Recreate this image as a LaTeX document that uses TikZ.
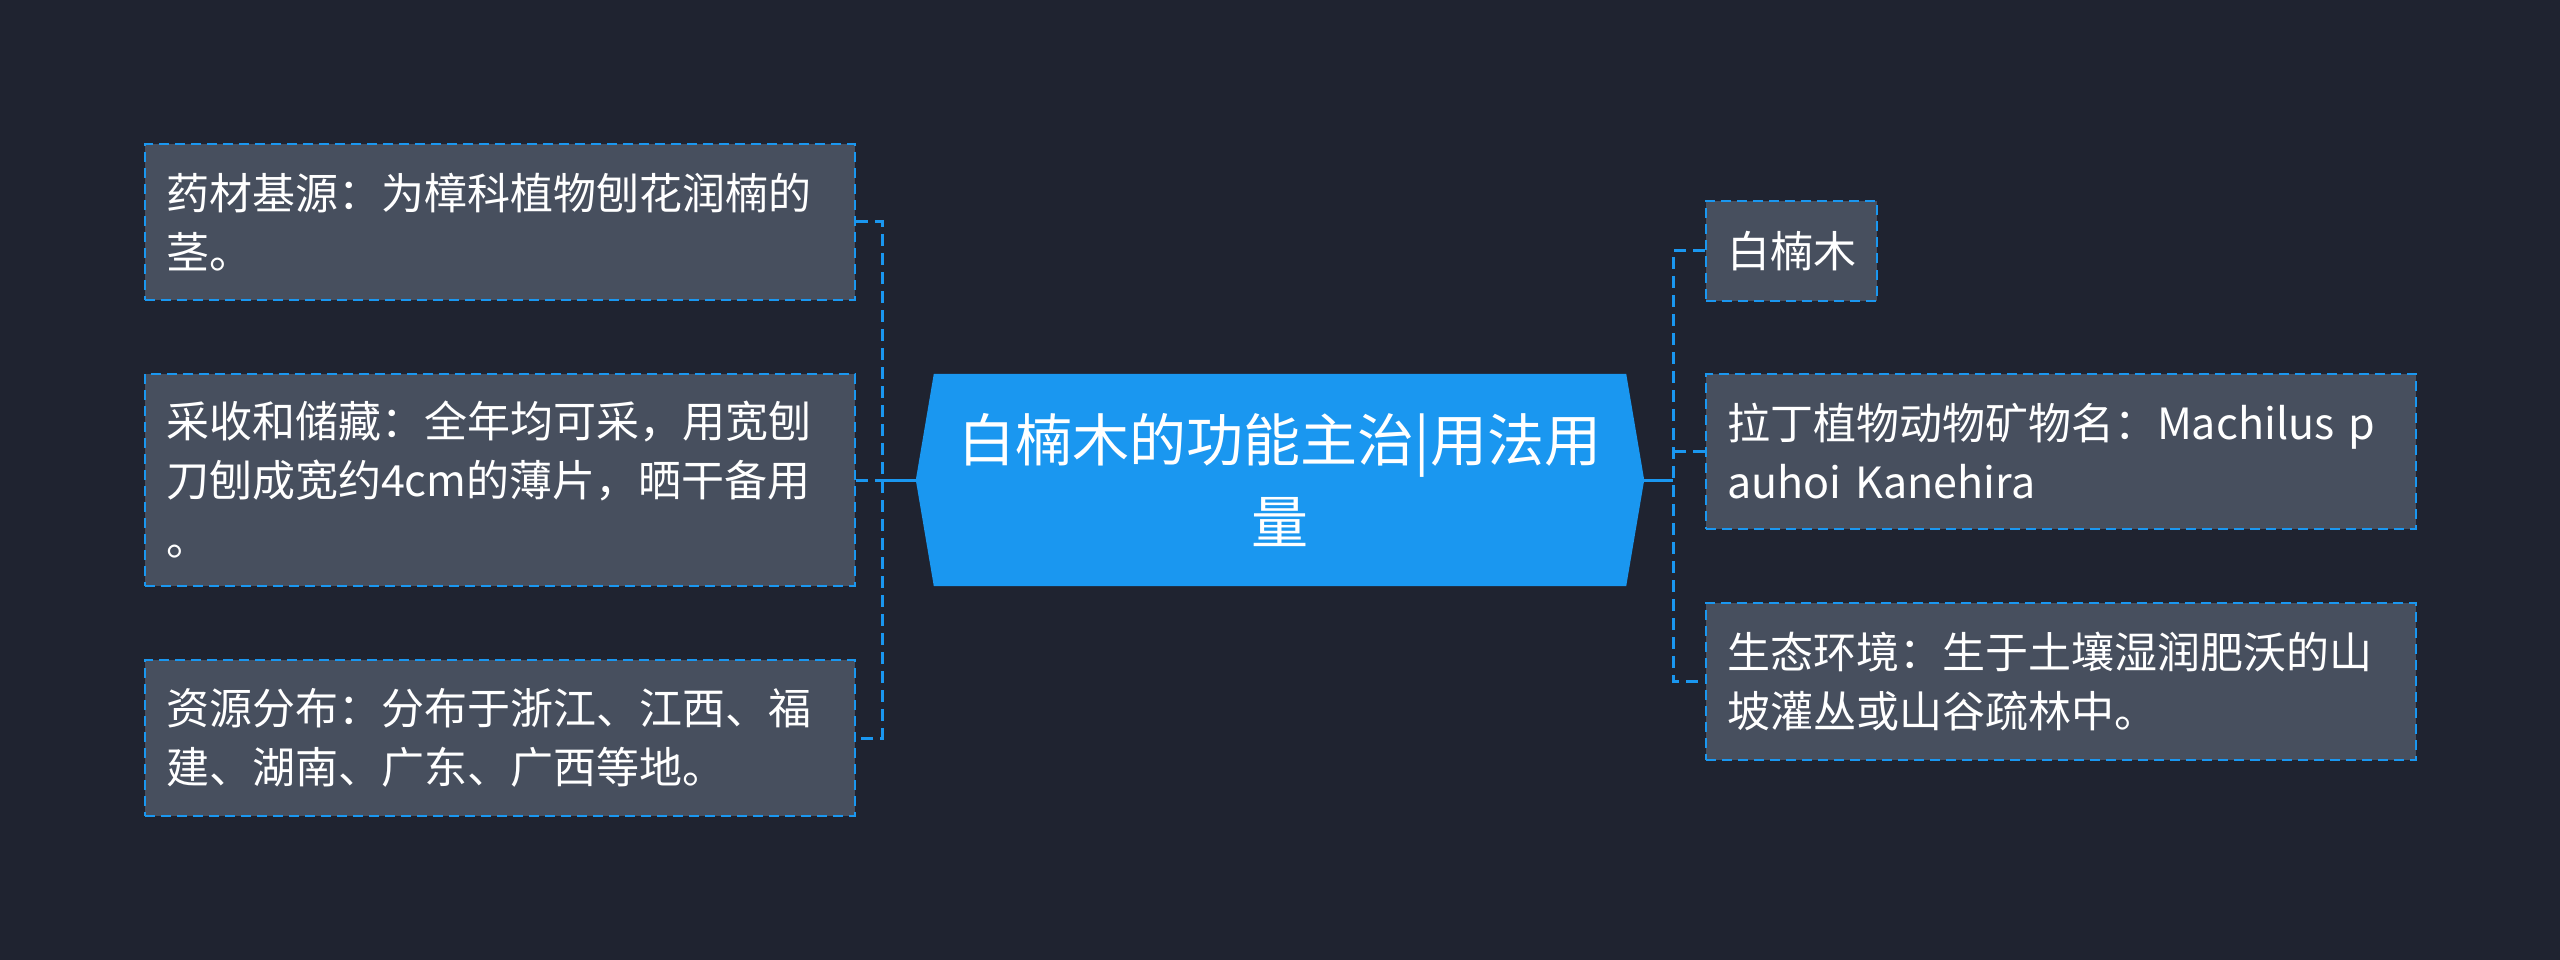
\documentclass[tikz,border=0pt]{standalone}
\usepackage{fontspec}
\setmainfont{Noto Sans CJK SC}
\usetikzlibrary{positioning,calc,backgrounds}
\definecolor{mmBack}{RGB}{31,35,48}
\definecolor{mmBox}{RGB}{71,79,94}
\definecolor{mmBlue}{RGB}{26,151,240}

\begin{document}
\begin{tikzpicture}[x=1pt, y=-1pt,
  leafbox/.style={draw=mmBlue, fill=mmBox, line width=2pt, dash pattern=on 10pt off 6pt,
    text=white, align=left, anchor=west, inner xsep=21pt, inner ysep=0pt,
    font=\fontsize{43}{59}\selectfont},
  rootnode/.style={minimum width=728pt, minimum height=212pt, inner sep=0pt,
    text width=690pt, align=center, text=white, font=\fontsize{57}{82}\selectfont},
  stem/.style={mmBlue, line width=3pt},
  branch/.style={mmBlue, line width=3pt, dash pattern=on 12pt off 7pt}]
  \useasboundingbox (0,0) rectangle (2560,960);

  % Main topic
  \node[rootnode] (root) at (1280,480) {白楠木的功能主治|用法用\\量};

  % Left branch
  \node[leafbox, text width=668pt, minimum height=156pt] (l1) at (144,222) {药材基源：为樟科植物刨花润楠的\\茎。};
  \node[leafbox, text width=668pt, minimum height=212pt] (l2) at (144,480) {采收和储藏：全年均可采，用宽刨\\刀刨成宽约4cm的薄片，晒干备用\\。};
  \node[leafbox, text width=668pt, minimum height=156pt] (l3) at (144,738) {资源分布：分布于浙江、江西、福\\建、湖南、广东、广西等地。};

  % Right branch
  \node[leafbox, minimum height=99pt] (r1) at (1705,251) {白楠木};
  \node[leafbox, text width=668pt, minimum height=155pt] (r2) at (1705,451) {拉丁植物动物矿物名：Machilus~p\\auhoi Kanehira};
  \node[leafbox, text width=668pt, minimum height=157pt] (r3) at (1705,681) {生态环境：生于土壤湿润肥沃的山\\坡灌丛或山谷疏林中。};

  % Connectors
  \coordinate (ljoint) at (882,480);
  \coordinate (rjoint) at (1673,480);
  \draw[stem] (root.west) -- (ljoint);
  \draw[branch] (l1.east) -| (ljoint) |- (l3.east);
  \draw[branch] (l2.east) -- (ljoint);
  \draw[stem] (root.east) -- (rjoint);
  \draw[branch] (r1.west) -| (rjoint) |- (r3.west);
  \draw[branch] (r2.west) -- (r2.west -| rjoint);

  \begin{scope}[on background layer]
    \fill[mmBack] (0,0) rectangle (2560,960);
    \fill[mmBlue] ([xshift=18pt]root.north west) -- ([xshift=-18pt]root.north east) -- (root.east)
      -- ([xshift=-18pt]root.south east) -- ([xshift=18pt]root.south west) -- (root.west) -- cycle;
  \end{scope}
\end{tikzpicture}
\end{document}
